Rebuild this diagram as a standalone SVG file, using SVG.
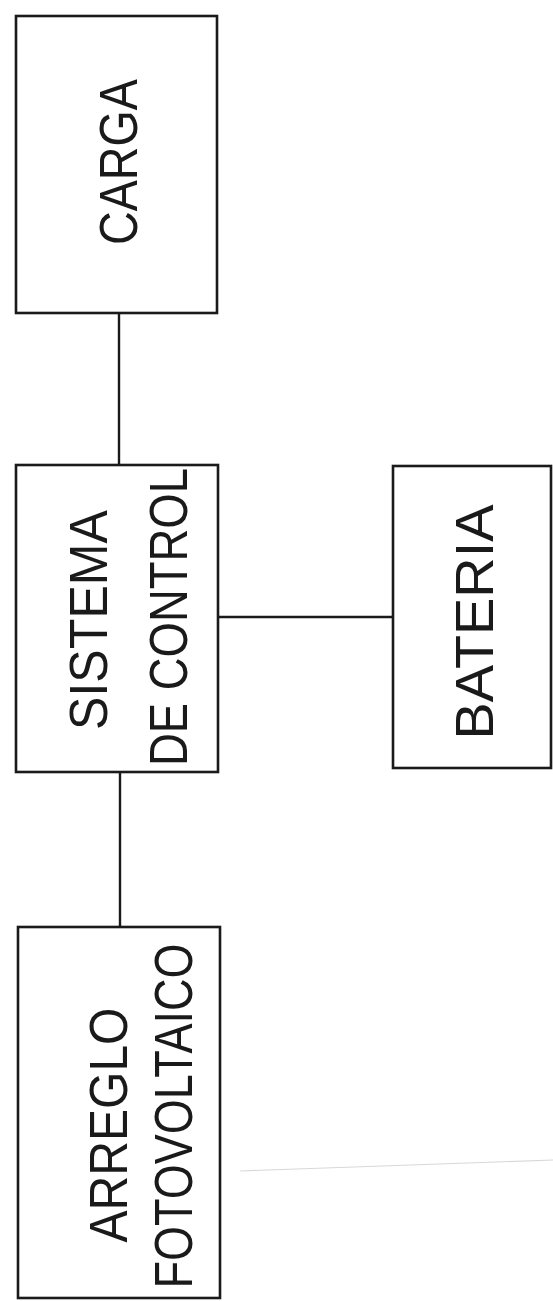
<svg xmlns="http://www.w3.org/2000/svg" width="553" height="1301" viewBox="0 0 553 1301">
<style>
.box{fill:#fff;stroke:#1a1a1a;stroke-width:2.6}
.conn{stroke:#1a1a1a;stroke-width:2.4;fill:none}
.lbl{font-family:"Liberation Sans","DejaVu Sans",sans-serif;font-size:54px;fill:#1a1a1a;text-anchor:middle}
</style>
<rect width="553" height="1301" fill="#fff"/>
<line x1="240" y1="1171" x2="553" y2="1160" stroke="#d8d8d8" stroke-width="1.2"/>
<g id="connectors">
<line class="conn" x1="119" y1="313" x2="119" y2="465"/>
<line class="conn" x1="218" y1="617" x2="393" y2="617"/>
<line class="conn" x1="120" y1="772" x2="120" y2="927"/>
</g>
<g id="carga">
<rect class="box" x="16" y="16" width="201" height="297"/>
<text class="lbl" transform="translate(137,162) rotate(-90)" textLength="166" lengthAdjust="spacingAndGlyphs">CARGA</text>
</g>
<g id="sistema">
<rect class="box" x="16" y="465" width="202" height="307"/>
<text class="lbl" transform="translate(107,620) rotate(-90)" textLength="220" lengthAdjust="spacingAndGlyphs">SISTEMA</text>
<text class="lbl" transform="translate(187,617) rotate(-90)" textLength="298" lengthAdjust="spacingAndGlyphs">DE CONTROL</text>
</g>
<g id="bateria">
<rect class="box" x="393" y="466" width="158" height="302"/>
<text class="lbl" transform="translate(493,622) rotate(-90)" textLength="235" lengthAdjust="spacingAndGlyphs">BATERIA</text>
</g>
<g id="arreglo">
<rect class="box" x="18" y="927" width="202" height="371"/>
<text class="lbl" transform="translate(127,1125) rotate(-90)" textLength="235" lengthAdjust="spacingAndGlyphs">ARREGLO</text>
<text class="lbl" transform="translate(192,1116) rotate(-90)" textLength="345" lengthAdjust="spacingAndGlyphs">FOTOVOLTAICO</text>
</g>
</svg>
